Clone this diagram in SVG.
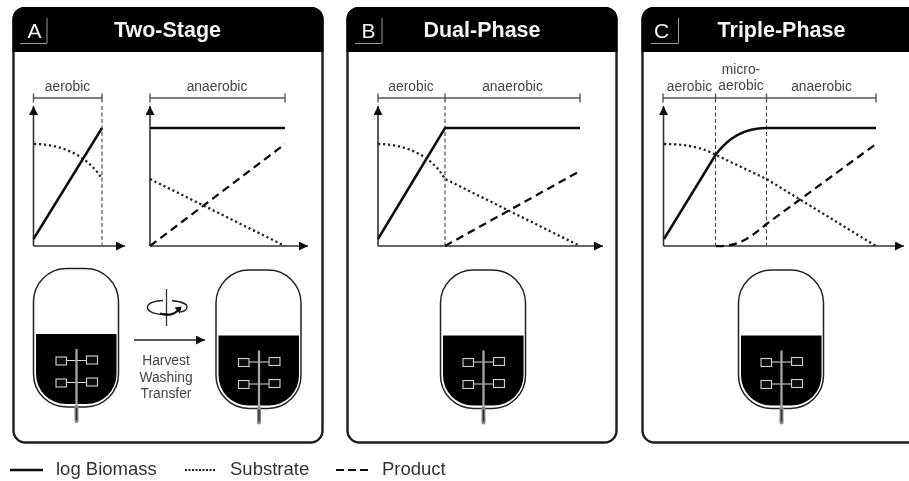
<svg xmlns="http://www.w3.org/2000/svg" xmlns:xlink="http://www.w3.org/1999/xlink" width="909" height="481" viewBox="0 0 909 481">
<style>
text{font-family:"Liberation Sans",Arial,sans-serif;fill:#222}
.t{font-size:13.800px;text-anchor:middle;fill:#444}
.h{font-size:21.500px;font-weight:bold;fill:#f4f4f4;text-anchor:middle}
.l{font-size:21px;fill:#f4f4f4;text-anchor:middle}
.lg{font-size:18.500px;fill:#333}
.panel{fill:#fff;stroke:#1a1a1a;stroke-width:2.400}
.br{fill:none;stroke:#555;stroke-width:1.400}
.ax{fill:none;stroke:#333;stroke-width:1.600}
.so{fill:none;stroke:#111;stroke-width:2.500}
.do{fill:none;stroke:#222;stroke-width:2.300;stroke-dasharray:2.200 2.800}
.da{fill:none;stroke:#111;stroke-width:2.300;stroke-dasharray:8 5}
.vd{fill:none;stroke:#444;stroke-width:1.100;stroke-dasharray:4 2.500}
.tab{fill:none;stroke:#999;stroke-width:1}
</style>
<defs>
<filter id="soft" x="0" y="0" width="100%" height="100%"><feGaussianBlur stdDeviation="0.5"/></filter>
<marker id="ah" markerUnits="userSpaceOnUse" markerWidth="10" markerHeight="10" refX="9" refY="4.500" orient="auto"><path d="M0 0L9 4.500L0 9Z" fill="#111"/></marker>
<g id="reactor">
<rect x="33.500" y="268.500" width="85" height="138.500" rx="33" ry="33" fill="#fff" stroke="#222" stroke-width="1.500"/>
<path d="M36 334H116.500V374A30 30 0 0 1 86.500 404H66A30 30 0 0 1 36 374Z" fill="#050505"/>
<path d="M66 360.500H87M66 382.500H87" stroke="#ddd" stroke-width="1" fill="none"/>
<g fill="#111" stroke="#ccc" stroke-width="1.100"><rect x="56" y="357" width="10.500" height="8"/><rect x="86.500" y="356" width="11" height="8"/><rect x="56" y="379" width="10.500" height="8"/><rect x="86.500" y="378" width="11" height="8"/></g>
<path d="M76.500 349V422" stroke="#aaa" stroke-width="2.200" fill="none"/>
<path d="M76.500 407V421" stroke="#888" stroke-width="4" stroke-linecap="round" fill="none"/>
<path d="M76.500 408V420" stroke="#333" stroke-width="1.500" fill="none"/>
</g>
</defs>
<g filter="url(#soft)">
<g id="panel-a">
<rect class="panel" x="13.500" y="8" width="309" height="434.500" rx="12"/>
<path d="M12.500 52V19A12 12 0 0 1 24.500 7H311.500A12 12 0 0 1 323.500 19V52Z" fill="#000"/>
<text class="l" x="34.500" y="38">A</text>
<path class="tab" d="M20 43.500H47V18"/>
<text class="h" x="167.500" y="37">Two-Stage</text>
</g>
<g id="panel-b">
<rect class="panel" x="347.500" y="8" width="269" height="434.500" rx="12"/>
<path d="M346.500 52V19A12 12 0 0 1 358.500 7H605.500A12 12 0 0 1 617.500 19V52Z" fill="#000"/>
<text class="l" x="368.500" y="38">B</text>
<path class="tab" d="M355 43.500H382V18"/>
<text class="h" x="482" y="37">Dual-Phase</text>
</g>
<g id="panel-c">
<rect class="panel" x="642.500" y="8" width="280" height="434.500" rx="12"/>
<path d="M641.500 52V19A12 12 0 0 1 653.500 7H925V52Z" fill="#000"/>
<text class="l" x="661.500" y="38">C</text>
<path class="tab" d="M650.500 43.500H678.500V18"/>
<text class="h" x="781.500" y="37">Triple-Phase</text>
</g>
<g id="chart-a1">
<path class="br" d="M33.500 98H102M33.500 93.500V102.500M102 93.500V102.500"/>
<text class="t" x="67.500" y="91">aerobic</text>
<path class="vd" d="M102 106V245"/>
<path class="ax" marker-end="url(#ah)" d="M33.500 246V106"/>
<path class="ax" marker-end="url(#ah)" d="M33.500 246H125"/>
<path class="so" d="M33.500 239L102 128"/>
<path class="do" d="M34 144C62 144 88 156 102 179"/>
</g>
<g id="chart-a2">
<path class="br" d="M150 98H285M150 93.500V102.500M285 93.500V102.500"/>
<text class="t" x="217" y="91">anaerobic</text>
<path class="ax" marker-end="url(#ah)" d="M150 246V106"/>
<path class="ax" marker-end="url(#ah)" d="M150 246H308"/>
<path class="so" d="M150 128H285"/>
<path class="da" d="M150 246L285 144"/>
<path class="do" d="M150 179L285 246"/>
</g>
<g id="chart-b">
<path class="br" d="M378 98H580M378 93.500V102.500M445 93.500V102.500M580 93.500V102.500"/>
<text class="t" x="411" y="91">aerobic</text>
<text class="t" x="512.500" y="91">anaerobic</text>
<path class="vd" d="M445 106V245"/>
<path class="ax" marker-end="url(#ah)" d="M378 246V106"/>
<path class="ax" marker-end="url(#ah)" d="M378 246H603"/>
<path class="so" d="M378 239L445 128H580"/>
<path class="do" d="M378 144C406 144 432 156 445 179L580 246"/>
<path class="da" d="M445 246L580 171"/>
</g>
<g id="chart-c">
<path class="br" d="M663 98H876M663 93.500V102.500M715.500 93.500V102.500M766.500 93.500V102.500M876 93.500V102.500"/>
<text class="t" x="689.500" y="91">aerobic</text>
<text class="t" x="741" y="74">micro-</text>
<text class="t" x="741" y="90">aerobic</text>
<text class="t" x="821.500" y="91">anaerobic</text>
<path class="vd" d="M715.500 106V245M766.500 106V245"/>
<path class="ax" marker-end="url(#ah)" d="M663.500 246V106"/>
<path class="ax" marker-end="url(#ah)" d="M663.500 246H904"/>
<path class="so" d="M664 239L715.500 155C730 135 748 128 766.500 128H876"/>
<path class="do" d="M664 144C690 144 705 149 716 155L766.500 179L876 246"/>
<path class="da" d="M716 246C740 247 752 236 766.500 224L876 144"/>
</g>
<g id="reactor-a1"><use xlink:href="#reactor" href="#reactor"/></g>
<g id="reactor-a2"><use xlink:href="#reactor" href="#reactor" x="182.500" y="1.500"/></g>
<g id="reactor-b"><use xlink:href="#reactor" href="#reactor" x="407" y="1.500"/></g>
<g id="reactor-c"><use xlink:href="#reactor" href="#reactor" x="705" y="1.500"/></g>
<g id="transfer">
<path d="M166.500 289V326" stroke="#333" stroke-width="1.300" fill="none"/>
<path d="M172 300.800C181 301.500 187 304 187 307C187 309 185 311 181 312M168 314.500C156 315 147 312 147.500 307C148 302.500 156 300.500 163 300.500" fill="none" stroke="#222" stroke-width="1.400"/>
<path d="M160 313.500C168 316 175 314.500 178 310" fill="none" stroke="#111" stroke-width="2.200"/>
<path d="M174.500 307.500L181.500 306.500L180 314Z" fill="#111"/>
<path d="M134 340H205" stroke="#222" stroke-width="1.500" marker-end="url(#ah)" fill="none"/>
<text class="t" x="166" y="365">Harvest</text>
<text class="t" x="166" y="382">Washing</text>
<text class="t" x="166" y="398">Transfer</text>
</g>
<g id="legend">
<path class="so" d="M10 470H43"/>
<text class="lg" x="56" y="475">log Biomass</text>
<path d="M185 470H216" fill="none" stroke="#222" stroke-width="1.800" stroke-dasharray="2 1.500"/>
<text class="lg" x="230" y="475">Substrate</text>
<path d="M336 470H368" fill="none" stroke="#111" stroke-width="2.200" stroke-dasharray="8 4"/>
<text class="lg" x="382" y="475">Product</text>
</g>
</g>
</svg>
